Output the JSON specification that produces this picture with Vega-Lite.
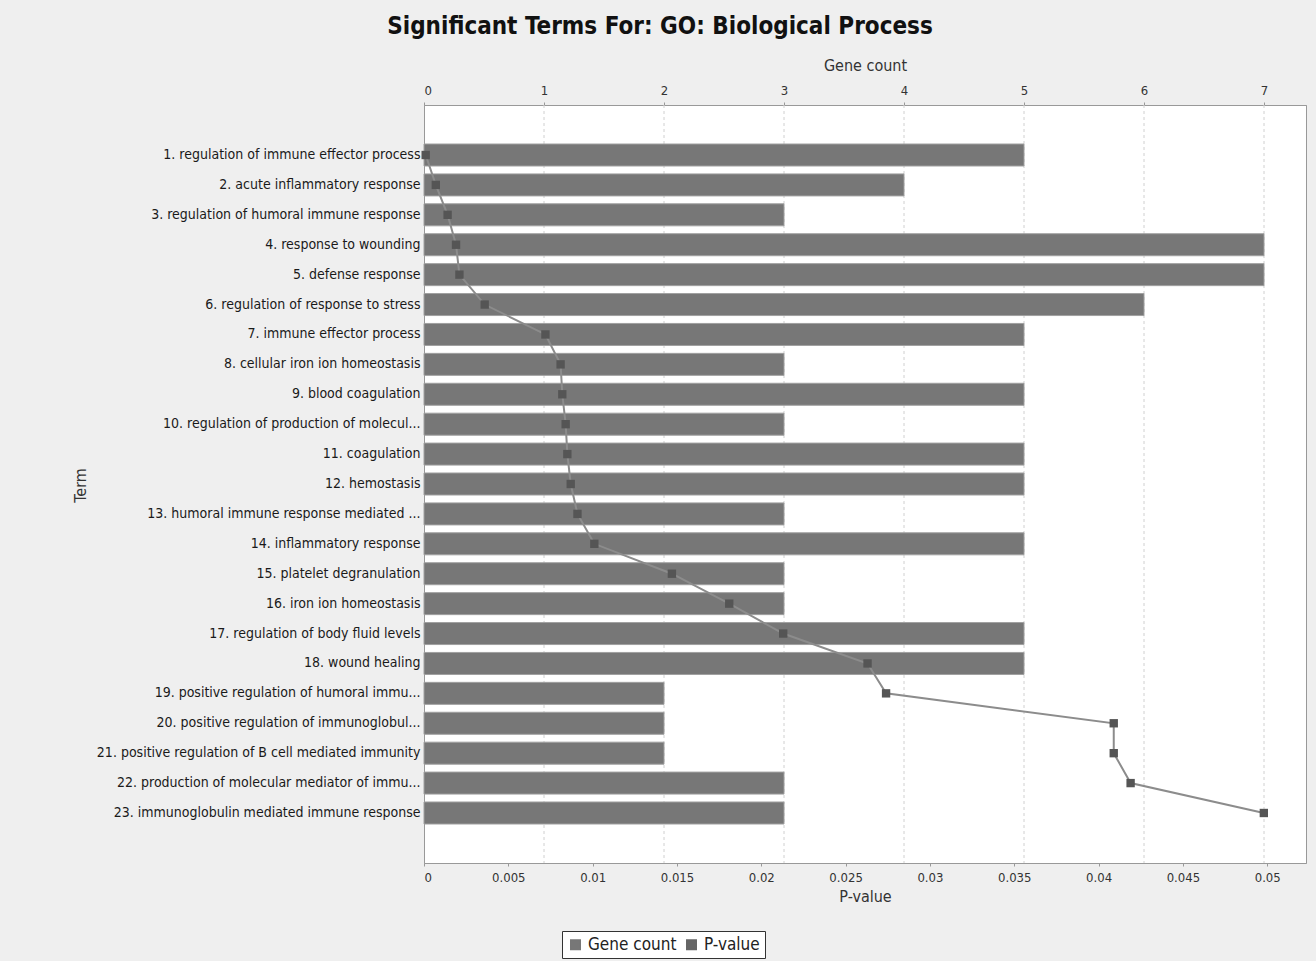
{
  "$schema": "https://vega.github.io/schema/vega-lite/v6.json",
  "autosize": {"type": "none"},
  "width": 882,
  "height": 758,
  "padding": {"left": 424, "top": 105, "right": 10, "bottom": 98},
  "background": "#efefef",
  "config": {
    "font": "DejaVu Sans Condensed",
    "view": {"fill": "white", "stroke": "#999", "strokeWidth": 1}
  },
  "title": {
    "text": "Significant Terms For: GO: Biological Process",
    "font": "DejaVu Sans Condensed",
    "fontSize": 24,
    "fontWeight": "bold",
    "color": "#111",
    "anchor": "middle",
    "frame": "group",
    "dx": -205,
    "offset": 18
  },
  "datasets": {
    "terms": [
      {"rank": 1, "term": "1. regulation of immune effector process", "count": 5, "pvalue": 0.0001},
      {"rank": 2, "term": "2. acute inflammatory response", "count": 4, "pvalue": 0.0007},
      {"rank": 3, "term": "3. regulation of humoral immune response", "count": 3, "pvalue": 0.0014},
      {"rank": 4, "term": "4. response to wounding", "count": 7, "pvalue": 0.0019},
      {"rank": 5, "term": "5. defense response", "count": 7, "pvalue": 0.0021},
      {"rank": 6, "term": "6. regulation of response to stress", "count": 6, "pvalue": 0.0036},
      {"rank": 7, "term": "7. immune effector process", "count": 5, "pvalue": 0.0072},
      {"rank": 8, "term": "8. cellular iron ion homeostasis", "count": 3, "pvalue": 0.0081},
      {"rank": 9, "term": "9. blood coagulation", "count": 5, "pvalue": 0.0082},
      {"rank": 10, "term": "10. regulation of production of molecul...", "count": 3, "pvalue": 0.0084},
      {"rank": 11, "term": "11. coagulation", "count": 5, "pvalue": 0.0085},
      {"rank": 12, "term": "12. hemostasis", "count": 5, "pvalue": 0.0087},
      {"rank": 13, "term": "13. humoral immune response mediated ...", "count": 3, "pvalue": 0.0091},
      {"rank": 14, "term": "14. inflammatory response", "count": 5, "pvalue": 0.0101},
      {"rank": 15, "term": "15. platelet degranulation", "count": 3, "pvalue": 0.0147},
      {"rank": 16, "term": "16. iron ion homeostasis", "count": 3, "pvalue": 0.0181},
      {"rank": 17, "term": "17. regulation of body fluid levels", "count": 5, "pvalue": 0.0213},
      {"rank": 18, "term": "18. wound healing", "count": 5, "pvalue": 0.0263},
      {"rank": 19, "term": "19. positive regulation of humoral immu...", "count": 2, "pvalue": 0.0274},
      {"rank": 20, "term": "20. positive regulation of immunoglobul...", "count": 2, "pvalue": 0.0409},
      {"rank": 21, "term": "21. positive regulation of B cell mediated immunity", "count": 2, "pvalue": 0.0409},
      {"rank": 22, "term": "22. production of molecular mediator of immu...", "count": 3, "pvalue": 0.0419},
      {"rank": 23, "term": "23. immunoglobulin mediated immune response", "count": 3, "pvalue": 0.0498}
    ],
    "grid": [
      {"count": 1}, {"count": 2}, {"count": 3}, {"count": 4}, {"count": 5}, {"count": 6}, {"count": 7}
    ]
  },
  "layer": [
    {
      "encoding": {
        "x": {
          "field": "count",
          "type": "quantitative",
          "scale": {"domain": [0, 7.35], "nice": false, "zero": true},
          "axis": {
            "orient": "top",
            "title": "Gene count",
            "titleFontSize": 16,
            "titleFontWeight": "normal",
            "titleColor": "#333",
            "titleY": -40,
            "titleBaseline": "middle",
            "values": [0, 1, 2, 3, 4, 5, 6, 7],
            "labelFontSize": 13,
            "labelColor": "#333",
            "labelPadding": 5,
            "tickSize": 3,
            "tickColor": "#999",
            "domainColor": "#999",
            "grid": false
          }
        }
      },
      "layer": [
        {
          "data": {"name": "grid"},
          "mark": {"type": "rule", "stroke": "#d0d0d0", "strokeWidth": 1, "strokeDash": [3, 3]},
          "encoding": {}
        },
        {
          "data": {"name": "terms"},
          "mark": {"type": "bar", "stroke": "#a0a0a0", "strokeWidth": 1},
          "encoding": {
            "y": {
              "field": "term",
              "type": "nominal",
              "sort": {"field": "rank", "order": "ascending"},
              "scale": {"paddingInner": 0.264, "paddingOuter": 0, "range": [39, 719]},
              "axis": {
                "title": "Term",
                "titleFont": "DejaVu Sans Condensed",
                "titleFontSize": 16,
                "titleFontWeight": "normal",
                "titleColor": "#333",
                "titleX": -344,
                "titleY": 380,
                "titleAngle": -90,
                "titleBaseline": "middle",
                "labelFontSize": 14,
                "labelColor": "#1a1a1a",
                "labelLimit": 400,
                "labelPadding": 4,
                "ticks": false,
                "domain": false,
                "grid": false
              }
            },
            "color": {
              "datum": "Gene count",
              "scale": {"domain": ["Gene count", "P-value"], "range": ["#777777", "#666666"]},
              "legend": {
                "title": null,
                "orient": "none",
                "legendX": 138,
                "legendY": 826,
                "direction": "horizontal",
                "symbolType": "square",
                "symbolSize": 90,
                "labelFontSize": 17,
                "labelColor": "#222",
                "fillColor": "white",
                "strokeColor": "#333",
                "padding": 5,
                "columnPadding": 6
              }
            }
          }
        }
      ]
    },
    {
      "data": {"name": "terms"},
      "encoding": {
        "y": {"field": "term", "type": "nominal", "sort": {"field": "rank", "order": "ascending"}},
        "x": {
          "field": "pvalue",
          "type": "quantitative",
          "scale": {"domain": [0, 0.0523], "nice": false},
          "axis": {
            "orient": "bottom",
            "title": "P-value",
            "titleFontSize": 16,
            "titleFontWeight": "normal",
            "titleColor": "#333",
            "titlePadding": 4,
            "values": [0, 0.005, 0.01, 0.015, 0.02, 0.025, 0.03, 0.035, 0.04, 0.045, 0.05],
            "format": "~g",
            "labelFontSize": 13,
            "labelColor": "#333",
            "labelPadding": 5,
            "tickSize": 3,
            "tickColor": "#999",
            "domainColor": "#999",
            "grid": false
          }
        }
      },
      "layer": [
        {
          "mark": {"type": "line", "stroke": "#8c8c8c", "strokeWidth": 2},
          "encoding": {"color": {"datum": "P-value"}}
        },
        {
          "mark": {"type": "point", "shape": "square", "filled": true, "color": "#555555", "size": 70, "opacity": 1},
          "encoding": {}
        }
      ]
    }
  ],
  "resolve": {"scale": {"x": "independent"}, "axis": {"x": "independent"}}
}
